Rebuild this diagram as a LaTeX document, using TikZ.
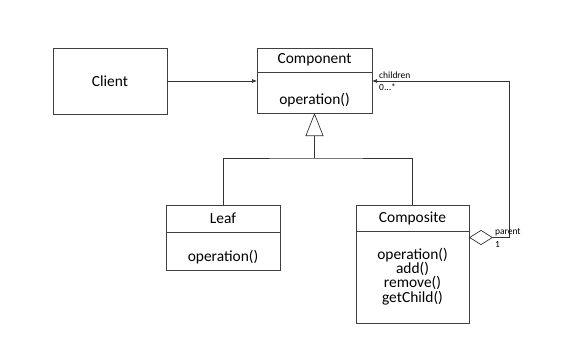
\documentclass[tikz,border=0pt]{standalone}
\usepackage{fontspec}
\setmainfont{Carlito}
\usetikzlibrary{arrows.meta,positioning,calc}

\begin{document}
\begin{tikzpicture}[x=1bp,y=-1bp,font=\fontsize{15.5}{14}\selectfont,
    box/.style={draw=black!75,line width=0.7pt,inner sep=0pt,outer sep=0pt},
    wire/.style={draw=black!80,line width=0.7pt},
    small/.style={font=\fontsize{9.5}{11}\selectfont,inner sep=0pt,anchor=west}]
  \useasboundingbox (0,0) rectangle (580,360);
  % classes: header + body
  \node[box,minimum width=114bp,minimum height=66bp] (client) at (110,81) {Client};
  \node[box,minimum width=115bp,minimum height=24bp] (compH) at (314.5,60) {Component};
  \node[box,minimum width=115bp,minimum height=41bp,anchor=north] (compB) at (compH.south) {};
  \node (compOp) at (314.5,100) {operation()};
  \node[box,minimum width=114bp,minimum height=27bp] (leafH) at (223,218.5) {Leaf};
  \node[box,minimum width=114bp,minimum height=38bp,anchor=north] (leafB) at (leafH.south) {};
  \node (leafOp) at (223,257) {operation()};
  \node[box,minimum width=113bp,minimum height=26bp] (cmpsH) at (412.5,218) {Composite};
  \node[box,minimum width=113bp,minimum height=92bp,anchor=north] (cmpsB) at (cmpsH.south) {};
  \node[align=center,font=\fontsize{15.5}{14.3}\selectfont] (cmpsOps) at (412.5,276.5) {operation()\\add()\\remove()\\getChild()};
  % client -> component
  \draw[wire,-{Latex[length=5bp,width=4bp]}] (client.east) -- (compB.west |- client.east);
  % inheritance
  \coordinate (join) at (314.5,158);
  \draw[wire] (leafH.north) |- (join) -| (cmpsH.north);
  \draw[wire,-{Triangle[open,length=23bp,width=18bp,line width=0.7pt]}] (join) -- (compB.south);
  % aggregation children/parent
  \coordinate (agg) at (509,237.5);
  \coordinate (ret) at (509,81);
  \draw[wire,{Diamond[open,length=24bp,width=15bp,line width=0.7pt]}-{Latex[length=5bp,width=4bp]}]
    (cmpsB.east |- agg) -- (agg) -- (ret) -- (compB.east |- ret);
  \node[small] (lblChildren) at (379,75) {children};
  \node[small] (lblMany) at (379,87.5) {0...*};
  \node[small] (lblParent) at (495,232) {parent};
  \node[small] (lblOne) at (495,244) {1};
\end{tikzpicture}
\end{document}
